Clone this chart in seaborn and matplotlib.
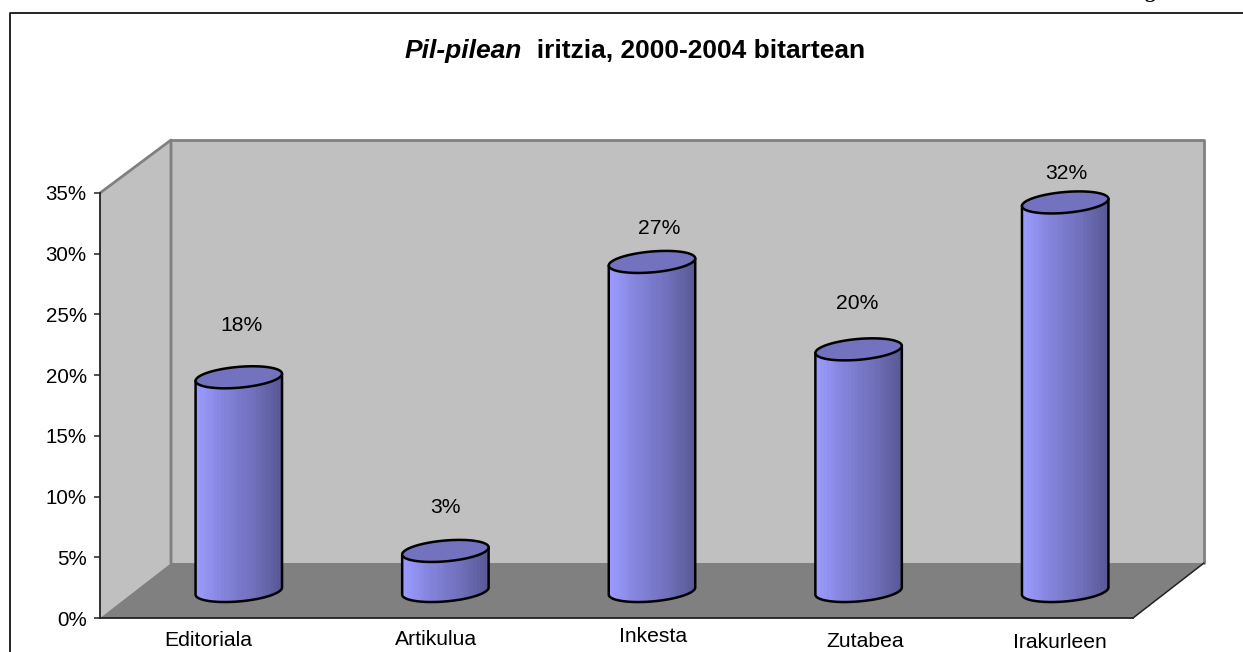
import numpy as np
import pandas as pd
import matplotlib
matplotlib.use("Agg")
import matplotlib.pyplot as plt
import seaborn as sns
from matplotlib.colors import LinearSegmentedColormap
from matplotlib.lines import Line2D
from matplotlib.patches import Polygon, PathPatch
from matplotlib.path import Path
from matplotlib.transforms import Affine2D, IdentityTransform

categories = ["Editoriala", "Artikulua", "Inkesta", "Zutabea", "Irakurleen"]
values = [17.6, 3.3, 27.1, 19.9, 32.0]
y_ticks = [0, 5, 10, 15, 20, 25, 30, 35]

W, H = 1243, 652
sns.set_theme(style="white")
plt.rcParams["font.family"] = ["Liberation Sans", "DejaVu Sans"]

fig = plt.figure(figsize=(W / 100, H / 100), dpi=100, facecolor="white")
# axes box is the front plane of the 3D chart: x 100-1133, y 193-618 px
ax = fig.add_axes([100 / W, 1 - 618 / H, 1033 / W, 425 / H])
ax.patch.set_alpha(0)

df = pd.DataFrame({"tipo": categories, "ehuneko": values})
sns.barplot(data=df, x="tipo", y="ehuneko", width=0.42, ax=ax, color="#9999FF")
ax.set_xlim(-0.5, 4.5)
ax.set_ylim(0, 35)
ax.set_xlabel("")
ax.set_ylabel("")

ax.set_yticks(y_ticks)
ax.set_yticklabels([f"{t}%" for t in y_ticks], fontsize=14.8, color="black")
ax.tick_params(axis="y", left=True, length=4.5, width=1.1, color="#222222", pad=5)
ax.tick_params(axis="x", bottom=False, pad=4, labelsize=15.2, labelcolor="black")
for s in ["top", "right"]:
    ax.spines[s].set_visible(False)
for s in ["left", "bottom"]:
    ax.spines[s].set_color("#222222")
    ax.spines[s].set_linewidth(1.3)
    ax.spines[s].set_zorder(6)

# category labels are not evenly placed in the original
label_shift = [5, 26, 37, 42, 30]
label_lift = [1, 2, 5, 0, -1]
for lbl, dx, dy in zip(ax.get_xticklabels(), label_shift, label_lift):
    lbl.set_transform(lbl.get_transform() + Affine2D().translate(dx, dy))

px = IdentityTransform()
x0, y0 = ax.transData.transform((-0.5, 0))
x1, y1 = ax.transData.transform((4.5, 35))
depth_x, depth_floor, depth_top = 71, 55, 53

# walls and floor
wall = "#C0C0C0"
edge = "#808080"
back = [(x0 + depth_x, y0 + depth_floor), (x1 + depth_x, y0 + depth_floor),
        (x1 + depth_x, y1 + depth_top), (x0 + depth_x, y1 + depth_top)]
side = [(x0, y0), (x0 + depth_x, y0 + depth_floor), (x0 + depth_x, y1 + depth_top), (x0, y1)]
floor = [(x0, y0), (x1, y0), (x1 + depth_x, y0 + depth_floor), (x0 + depth_x, y0 + depth_floor)]
for pts, col in [(back, wall), (side, wall), (floor, "#808080")]:
    ax.add_patch(Polygon(pts, closed=True, facecolor=col, edgecolor="none", transform=px,
                         clip_on=False, zorder=0.5))
ax.add_line(Line2D([x0, x0 + depth_x, x0 + depth_x], [y1, y1 + depth_top, y0 + depth_floor], color=edge,
                   lw=2, transform=px, clip_on=False, zorder=0.7))
ax.add_line(Line2D([x0 + depth_x, x1 + depth_x, x1 + depth_x], [y1 + depth_top, y1 + depth_top, y0 + depth_floor],
                   color=edge, lw=2, transform=px, clip_on=False, zorder=0.7))
ax.add_line(Line2D([x1, x1 + depth_x], [y0, y0 + depth_floor], color="#222222", lw=1.1,
                   transform=px, clip_on=False, zorder=0.8))

# cylinders, built from the bars seaborn made
shade = LinearSegmentedColormap.from_list("cyl", ["#9C9CFF", "#8484DC", "#7070BC", "#585894"], N=26)
grad = np.linspace(0, 1, 90).reshape(1, -1)
phi = np.radians(5)
b_axis = 10.4
shift_x, shift_y = depth_x / 2, depth_floor / 2 - 0.5
label_nudge = [(3, 52), (0, 43), (7, 33), (-1, 46), (1, 29)]


def ring(cx, cy, a, t):
    return np.column_stack([cx + a * np.cos(t) * np.cos(phi) - b_axis * np.sin(t) * np.sin(phi),
                            cy + a * np.cos(t) * np.sin(phi) + b_axis * np.sin(t) * np.cos(phi)])


for bar, val, nudge in zip(ax.patches, values, label_nudge):
    bar.set_visible(False)
    (left, base), (right, top) = ax.transData.transform(
        [(bar.get_x(), 0), (bar.get_x() + bar.get_width(), val)])
    cx = (left + right) / 2 + shift_x
    a = (right - left) / 2
    base_y = base + shift_y
    top_y = top + shift_y
    t_left = np.pi + np.arctan(-b_axis * np.tan(phi) / a)
    t_right = t_left + np.pi
    low = ring(cx, base_y, a, np.linspace(t_left, t_right, 60))
    body = np.vstack([low, ring(cx, top_y, a, np.array([t_right, t_left]))])
    outline = Path(np.vstack([body, body[0]]), closed=True)
    im = ax.imshow(grad, cmap=shade, aspect="auto", interpolation="nearest", transform=px,
                   extent=(cx - a - 2, cx + a + 2, base_y - 20, top_y + 20), zorder=2)
    im.set_clip_path(PathPatch(outline, transform=px))
    ax.add_patch(PathPatch(outline, facecolor="none", edgecolor="black", lw=1.8, transform=px,
                           clip_on=False, zorder=3, joinstyle="round"))
    lid = ring(cx, top_y, a, np.linspace(0, 2 * np.pi, 100))
    ax.add_patch(Polygon(lid, closed=True, facecolor="#7272BE", edgecolor="black", lw=1.8, transform=px,
                         clip_on=False, zorder=4))
    ax.text(cx + nudge[0], top_y + nudge[1], f"{round(val)}%", ha="center", va="center",
            fontsize=15.2, color="black", transform=px, zorder=5)

ax.set_xlim(-0.5, 4.5)
ax.set_ylim(0, 35)

# title, italic part and bold part
t1 = fig.text(405 / W, 1 - 58 / H, "Pil-pilean", fontsize=19, fontweight="bold", fontstyle="italic",
              ha="left", va="baseline", color="black")
ax.annotate("  iritzia, 2000-2004 bitartean", xy=(1, 0), xycoords=t1, xytext=(0, 0), textcoords="offset points",
            fontsize=19, fontweight="bold", ha="left", va="bottom", color="black", annotation_clip=False)

# page frame
fig.add_artist(Line2D([10 / W, 10 / W, 1], [0, 1 - 13 / H, 1 - 13 / H], color="black", lw=1.2))
# bottom of a letter from the page above the frame
fig.text(1150 / W, 1 + 3 / H, "g", family="Liberation Serif", fontweight="bold", fontsize=15, ha="center",
         va="baseline", color="black")

plt.savefig("out.png", dpi=100)
